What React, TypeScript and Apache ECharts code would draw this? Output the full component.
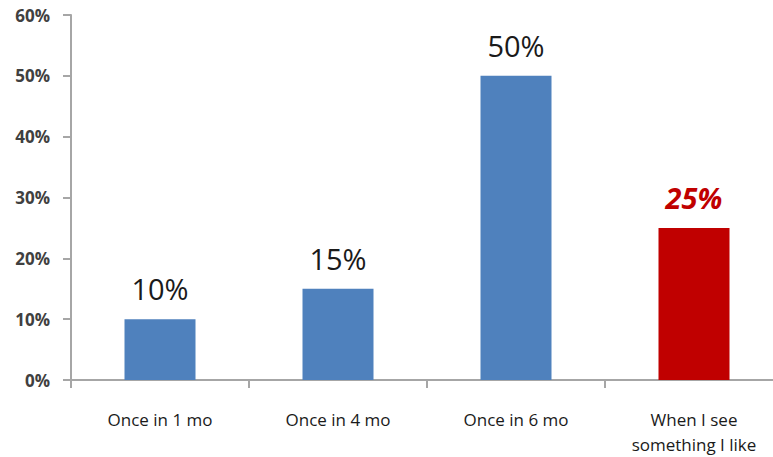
import React, { useEffect, useRef } from "react";
import * as echarts from "echarts";

const categories = ["Once in 1 mo", "Once in 4 mo", "Once in 6 mo", "When I see\nsomething I like"];
const values = [10, 15, 50, 25];
const barColors = ["#4F81BD", "#4F81BD", "#4F81BD", "#C00000"];
const yTicks = [0, 10, 20, 30, 40, 50, 60];

export default function App() {
  const ref = useRef<HTMLDivElement>(null);
  useEffect(() => {
    if (!ref.current) return;
    const chart = echarts.init(ref.current, undefined, { renderer: "svg" });
    chart.setOption({
      animation: false,
      grid: { left: 71, right: -10, top: 15, bottom: 77, containLabel: false, outerBoundsMode: "none" },
      xAxis: {
        type: "category",
        data: categories,
        axisLine: { lineStyle: { color: "#A6A6A6", width: 2 } },
        axisTick: { show: true, length: 8, lineStyle: { color: "#A6A6A6", width: 2 } },
        axisLabel: {
          margin: 27,
          color: "#1a1a1a",
          fontFamily: "Open Sans",
          fontWeight: "normal",
          fontSize: 17,
          lineHeight: 25,
        },
      },
      yAxis: {
        type: "value",
        min: yTicks[0],
        max: yTicks[yTicks.length - 1],
        interval: 10,
        splitLine: { show: false },
        axisLine: { show: true, lineStyle: { color: "#A6A6A6", width: 2 } },
        axisTick: { show: true, length: 8, lineStyle: { color: "#A6A6A6", width: 2 } },
        axisLabel: {
          margin: 21,
          color: "#404040",
          fontFamily: "Open Sans",
          fontWeight: "bold",
          fontSize: 17,
          formatter: "{value}%",
        },
      },
      series: [
        {
          type: "bar",
          barWidth: 71,
          data: values.map((v, i) => ({
            value: v,
            itemStyle: { color: barColors[i] },
            label:
              i === 3
                ? { color: "#C00000", fontStyle: "italic", fontWeight: "bold" }
                : {},
          })),
          label: {
            show: true,
            position: "top",
            distance: 16,
            formatter: "{c}%",
            fontFamily: "Open Sans",
            fontSize: 29,
            color: "#1a1a1a",
          },
        },
      ],
    });
    return () => chart.dispose();
  }, []);
  return <div ref={ref} style={{ width: 773, height: 457, position: "absolute", left: 0, top: 0 }} />;
}
